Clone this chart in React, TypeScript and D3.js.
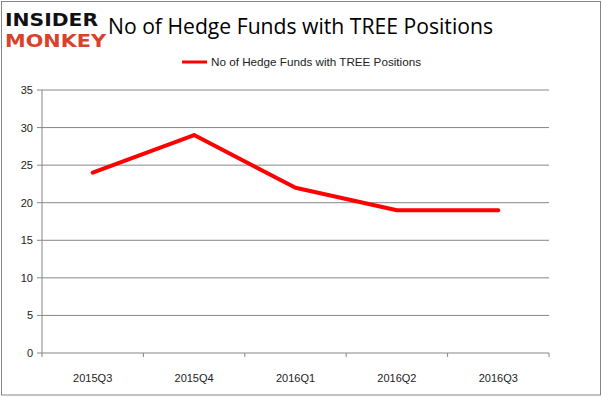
import React from "react";
import * as d3 from "d3";

const categories = ["2015Q3", "2015Q4", "2016Q1", "2016Q2", "2016Q3"];
const values = [24, 29, 22, 19, 19];
const yTicks = [0, 5, 10, 15, 20, 25, 30, 35];
const seriesName = "No of Hedge Funds with TREE Positions";
const title = "No of Hedge Funds with TREE Positions";

export default function App() {
  const W = 602, H = 398;
  const left = 42, right = 549, top = 90, bottom = 353;
  const x = d3.scaleBand<string>().domain(categories).range([left, right]);
  const y = d3.scaleLinear().domain([0, 35]).range([bottom, top]);
  const line = d3
    .line<number>()
    .x((_, i) => (x(categories[i]) as number) + x.bandwidth() / 2)
    .y((d) => y(d));
  const grid = "#868686";
  const font = "'Liberation Sans', Arial, sans-serif";
  return (
    <svg width={W} height={H} style={{ position: "absolute", left: 0, top: 0 }}>
      <rect x={0} y={0} width={W} height={H} fill="#fff" />
      <rect x={1.5} y={1.5} width={599} height={393.5} fill="none" stroke={grid} strokeWidth={1} />
      {/* logo */}
      <text x={5} y={26} fontFamily="'DejaVu Sans', sans-serif" fontWeight={900} fontSize={17} fill="#111" textLength={93} lengthAdjust="spacingAndGlyphs">INSIDER</text>
      <text x={5} y={47} fontFamily="'DejaVu Sans', sans-serif" fontWeight={900} fontSize={17} fill="#d9412b" textLength={101} lengthAdjust="spacingAndGlyphs">MONKEY</text>
      {/* title */}
      <text x={108} y={34} fontFamily="'Open Sans', sans-serif" fontSize={21} fill="#000" textLength={385} lengthAdjust="spacingAndGlyphs">{title}</text>
      {/* legend */}
      <line x1={182} x2={207} y1={62} y2={62} stroke="#ff0000" strokeWidth={3} />
      <text x={211} y={66} fontFamily={font} fontSize={11} fill="#222" textLength={210} lengthAdjust="spacingAndGlyphs">{seriesName}</text>
      {/* gridlines */}
      {yTicks.map((t) => (
        <g key={t}>
          {t > 0 && <line x1={left} x2={right} y1={y(t)} y2={y(t)} stroke={grid} strokeWidth={1} />}
          <line x1={left - 5} x2={left} y1={y(t)} y2={y(t)} stroke={grid} strokeWidth={1} />
          <text x={33} y={y(t) + 4} textAnchor="end" fontFamily={font} fontSize={11} fill="#222">{t}</text>
        </g>
      ))}
      <line x1={left} x2={left} y1={top} y2={bottom} stroke={grid} strokeWidth={1} />
      <line x1={left} x2={right} y1={bottom} y2={bottom} stroke={grid} strokeWidth={1} />
      {categories.map((c, i) => (
        <line key={"t" + i} x1={x(c) as number} x2={x(c) as number} y1={bottom} y2={bottom + 4} stroke={grid} />
      ))}
      <line x1={right} x2={right} y1={bottom} y2={bottom + 4} stroke={grid} />
      {categories.map((c) => (
        <text key={c} x={(x(c) as number) + x.bandwidth() / 2} y={382} textAnchor="middle" fontFamily={font} fontSize={11} fill="#222">{c}</text>
      ))}
      <path d={line(values) || ""} fill="none" stroke="#ff0000" strokeWidth={4} strokeLinejoin="round" strokeLinecap="round" />
    </svg>
  );
}
